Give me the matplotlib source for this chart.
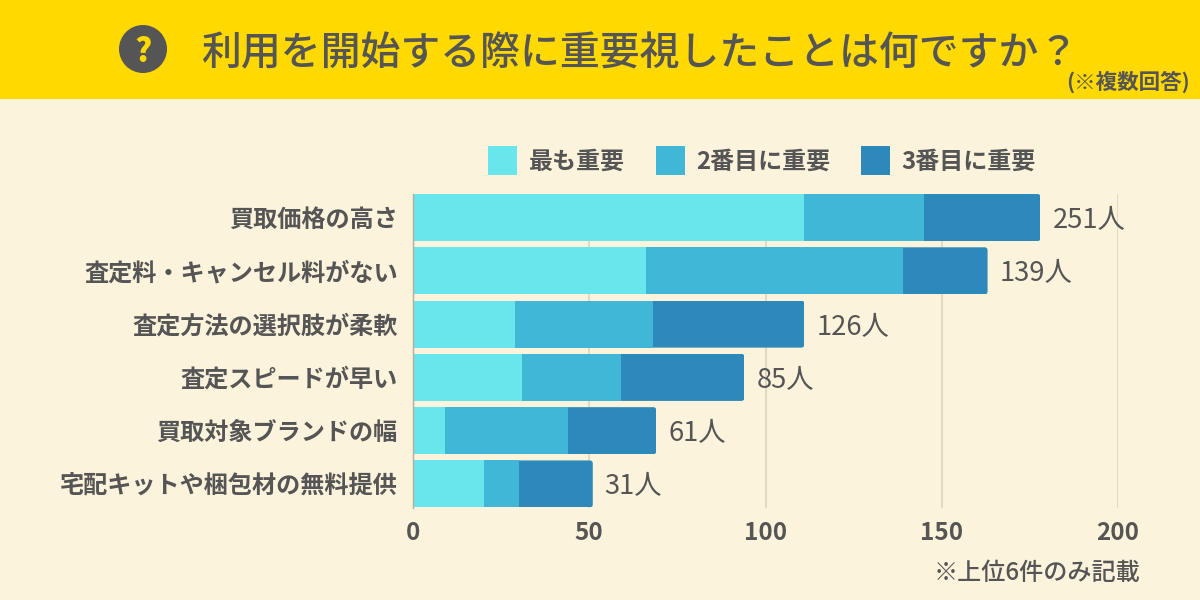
import matplotlib
matplotlib.use("Agg")
import matplotlib.pyplot as plt
from matplotlib.patches import Rectangle, Circle, FancyBboxPatch, Patch

plt.rcParams['font.family'] = ['Noto Sans CJK JP', 'DejaVu Sans']

categories = ["買取価格の高さ", "査定料・キャンセル料がない", "査定方法の選択肢が柔軟",
              "査定スピードが早い", "買取対象ブランドの幅", "宅配キットや梱包材の無料提供"]
first = [111, 66, 29, 31, 9, 20]
second = [34, 73, 39, 28, 35, 10]
third = [33, 24, 43, 35, 25, 21]
totals = ["251人", "139人", "126人", "85人", "61人", "31人"]
series_names = ["最も重要", "2番目に重要", "3番目に重要"]
x_ticks = [0, 50, 100, 150, 200]
title = "利用を開始する際に重要視したことは何ですか？"
subnote = "(※複数回答)"
footnote = "※上位6件のみ記載"

W, H = 1200, 600
TXT = "#555555"
BG = "#FBF3DC"
YEL = "#FFD900"
COLORS = ["#69E6EB", "#40B7D7", "#2C89B9"]

fig = plt.figure(figsize=(12, 6), dpi=100, facecolor=BG)

def fx(p): return p / W
def fy(p): return 1 - p / H

fig.patches.append(Rectangle((0, fy(99)), 1, 99 / H, transform=fig.transFigure, fc=YEL, ec="none", zorder=0))
bg = fig.add_axes([0, 0, 1, 1], zorder=1)
bg.set_xlim(0, W); bg.set_ylim(H, 0); bg.axis("off"); bg.patch.set_alpha(0)
bg.add_patch(Circle((143, 49), 24, fc=TXT, ec="none"))
bg.text(143, 49, "?", ha="center", va="center_baseline", fontsize=23, fontweight="black", color=YEL)
bg.text(201, 54, title, ha="left", va="center", fontsize=28.7, fontweight="medium", color=TXT)
bg.text(1190, 82, subnote, ha="right", va="center", fontsize=15.5, fontweight="bold", color=TXT)
bg.text(1140, 573, footnote, ha="right", va="center", fontsize=17.4, fontweight="medium", color=TXT)

ax = fig.add_axes([fx(413), fy(507.5), 705 / W, 313.5 / H], zorder=2)
ax.patch.set_alpha(0)
ys = list(range(len(categories)))
h = 0.883
b1 = ax.barh(ys, first, height=h, color=COLORS[0], label=series_names[0])
left2 = first
b2 = ax.barh(ys, second, left=left2, height=h, color=COLORS[1], label=series_names[1])
left3 = [a + b for a, b in zip(first, second)]
b3 = ax.barh(ys, third, left=left3, height=h, color=COLORS[2], label=series_names[2])

ax.set_xlim(0, 200)
ax.set_ylim(5.4417, -0.4417)
ax.set_yticks(ys, categories, fontsize=17.4, fontweight="bold", color=TXT)
ax.set_xticks(x_ticks, [str(t) for t in x_ticks], fontsize=17.5, fontweight="bold", color=TXT)
ax.tick_params(axis="both", length=0)
ax.tick_params(axis="y", pad=11)
ax.tick_params(axis="x", pad=9.5)
ax.grid(axis="x", color="#DCD5BF", lw=1.2)
ax.set_axisbelow(True)
for s in ["top", "right", "bottom"]:
    ax.spines[s].set_visible(False)
ax.spines["left"].set_color("#B5AE9C")
ax.spines["left"].set_linewidth(1)

for i, lab in enumerate(totals):
    end = left3[i] + third[i]
    ax.annotate(lab, (end, i), xytext=(8.6, -2.2), textcoords="offset points", ha="left",
                va="center", fontsize=19.7, color=TXT, annotation_clip=False)
    clip = FancyBboxPatch((-5, i - h / 2), end + 5, h, boxstyle="round,pad=0,rounding_size=0.9",
                          mutation_aspect=0.0663, transform=ax.transData, fc="none", ec="none")
    ax.add_patch(clip)
    b3[i].set_clip_path(clip)

handles = [Patch(fc=c, ec="none", label=n) for c, n in zip(COLORS, series_names)]
leg = ax.legend(handles=handles, ncol=3, loc="center", bbox_to_anchor=(fx(762), fy(160.5)),
                bbox_transform=fig.transFigure, frameon=False, handlelength=1.21, handleheight=1.43,
                handletextpad=0.46, columnspacing=1.3, borderpad=0, borderaxespad=0,
                prop={"size": 17.3, "weight": "bold"})
for t in leg.get_texts():
    t.set_color(TXT)

fig.savefig("out.png", dpi=100, facecolor=BG)
